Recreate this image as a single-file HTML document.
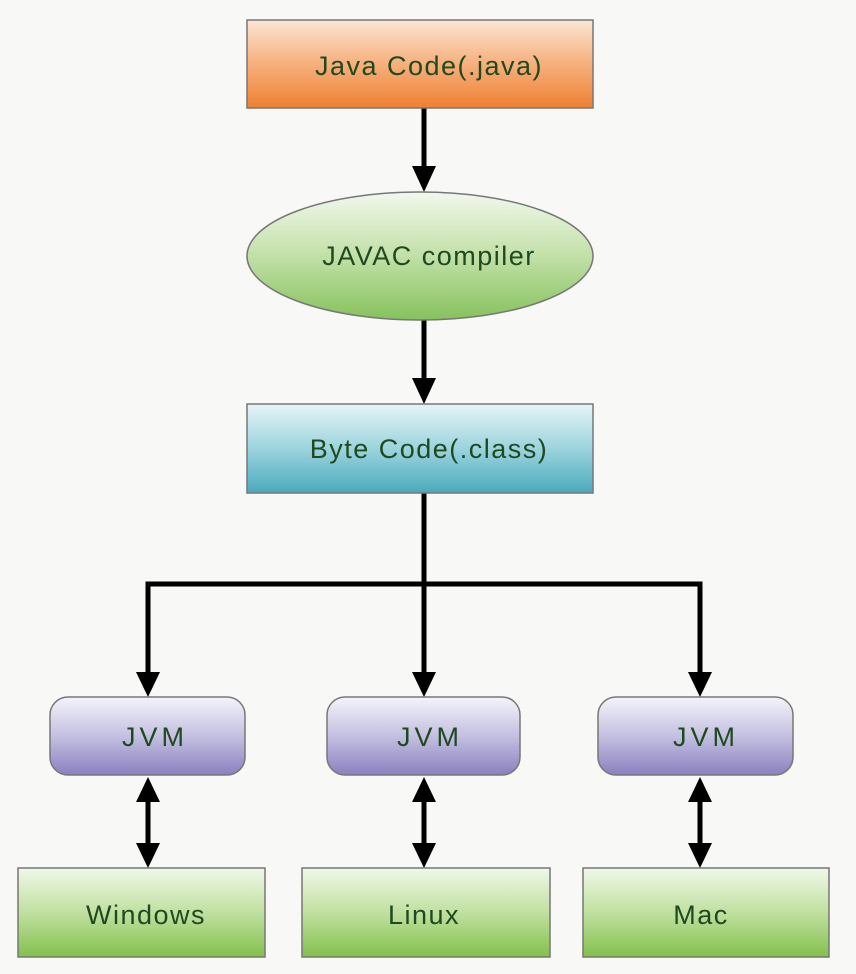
<!DOCTYPE html>
<html><head><meta charset="utf-8"><style>
html,body{margin:0;padding:0;background:#f8f8f6;}
svg{display:block}
text{font-family:"Liberation Sans",sans-serif;font-size:27px;letter-spacing:1.5px;fill:#1f4a1f;text-anchor:middle;dominant-baseline:central}
</style></head><body>
<svg width="856" height="974" viewBox="0 0 856 974" xmlns="http://www.w3.org/2000/svg">
<defs>
<linearGradient id="or" x1="0" y1="0" x2="0" y2="1"><stop offset="0" stop-color="#fbe6d4"/><stop offset="0.5" stop-color="#f6b07c"/><stop offset="1" stop-color="#ee8032"/></linearGradient>
<linearGradient id="gr" x1="0" y1="0" x2="0" y2="1"><stop offset="0" stop-color="#f2f8ec"/><stop offset="0.5" stop-color="#c2e0a8"/><stop offset="1" stop-color="#86c25c"/></linearGradient>
<linearGradient id="bl" x1="0" y1="0" x2="0" y2="1"><stop offset="0" stop-color="#e6f4f6"/><stop offset="0.5" stop-color="#9cd4de"/><stop offset="1" stop-color="#4aaabc"/></linearGradient>
<linearGradient id="pu" x1="0" y1="0" x2="0" y2="1"><stop offset="0" stop-color="#f4f4fa"/><stop offset="0.5" stop-color="#c4c0e0"/><stop offset="1" stop-color="#8a80c0"/></linearGradient>
<linearGradient id="lg" x1="0" y1="0" x2="0" y2="1"><stop offset="0" stop-color="#f0f8e8"/><stop offset="0.5" stop-color="#c0e0a0"/><stop offset="1" stop-color="#84c04c"/></linearGradient>
</defs>
<g stroke="#000" stroke-width="5" fill="none">
<line x1="424" y1="108" x2="424" y2="170"/>
<line x1="424" y1="320" x2="424" y2="384"/>
<line x1="424" y1="493" x2="424" y2="675"/>
<polyline points="148,675 148,584 700,584 700,675"/>
<line x1="148" y1="800" x2="148" y2="845"/>
<line x1="424" y1="800" x2="424" y2="845"/>
<line x1="700" y1="800" x2="700" y2="845"/>
</g>
<g fill="#000">
<polygon points="412,166 436,166 424,192"/>
<polygon points="412,378 436,378 424,404"/>
<polygon points="136,672 160,672 148,697"/>
<polygon points="412,672 436,672 424,697"/>
<polygon points="688,672 712,672 700,697"/>
<polygon points="136,802 160,802 148,777"/><polygon points="136,843 160,843 148,868"/>
<polygon points="412,802 436,802 424,777"/><polygon points="412,843 436,843 424,868"/>
<polygon points="688,802 712,802 700,777"/><polygon points="688,843 712,843 700,868"/>
</g>
<g stroke="#777" stroke-width="1.5">
<rect x="247" y="20" width="346" height="88" fill="url(#or)"/>
<ellipse cx="420" cy="256" rx="173" ry="64" fill="url(#gr)"/>
<rect x="247" y="404" width="346" height="89" fill="url(#bl)"/>
<rect x="50" y="697" width="195" height="78" rx="18" fill="url(#pu)"/>
<rect x="327" y="697" width="193" height="78" rx="18" fill="url(#pu)"/>
<rect x="598" y="697" width="195" height="78" rx="18" fill="url(#pu)"/>
<rect x="18" y="868" width="247" height="89" fill="url(#lg)"/>
<rect x="302" y="868" width="248" height="89" fill="url(#lg)"/>
<rect x="583" y="868" width="246" height="89" fill="url(#lg)"/>
</g>
<text x="429" y="66">Java Code(.java)</text>
<text x="429" y="256" font-size="28">JAVAC compiler</text>
<text x="429" y="449">Byte Code(.class)</text>
<text x="155" y="737" fill="#2a4040" style="letter-spacing:4px">JVM</text>
<text x="430" y="737" fill="#2a4040" style="letter-spacing:4px">JVM</text>
<text x="706" y="737" fill="#2a4040" style="letter-spacing:4px">JVM</text>
<text x="146" y="915" fill="#1e5a1e">Windows</text>
<text x="424" y="915" fill="#1e5a1e">Linux</text>
<text x="701" y="915" fill="#1e5a1e">Mac</text>
</svg>
</body></html>
